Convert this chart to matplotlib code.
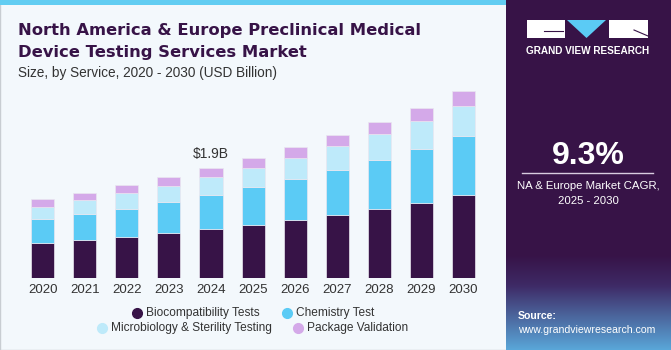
# North America & Europe preclinical medical device testing services chart

import numpy as np
import matplotlib.pyplot as plt
from matplotlib.patches import Rectangle, Polygon
from matplotlib.lines import Line2D

years = ['2020', '2021', '2022', '2023', '2024', '2025', '2026', '2027', '2028', '2029', '2030']
biocompat = [0.605, 0.662, 0.719, 0.777, 0.846, 0.921, 1.002, 1.094, 1.192, 1.307, 1.428]
chemistry = [0.415, 0.449, 0.484, 0.535, 0.587, 0.645, 0.702, 0.771, 0.846, 0.927, 1.019]
microbio = [0.218, 0.242, 0.265, 0.288, 0.311, 0.334, 0.374, 0.409, 0.443, 0.484, 0.530]
package = [0.128, 0.121, 0.138, 0.144, 0.155, 0.167, 0.178, 0.190, 0.213, 0.225, 0.248]
series_names = ['Biocompatibility Tests', 'Chemistry Test',
                'Microbiology & Sterility Testing', 'Package Validation']
colors = ['#371347', '#5BCBF5', '#BEEAFA', '#D4A9E9']

W, H = 671, 350
fig = plt.figure(figsize=(W / 100, H / 100), dpi=100)
fig.patch.set_facecolor('#FFFFFF')

def fx(px):
    return px / W

def fy(py):
    return 1 - py / H

# backgrounds
fig.add_artist(Rectangle((0, 0), 1, 1, transform=fig.transFigure, facecolor='#F3F8FC',
                         edgecolor='#C8CDD2', lw=1.0, zorder=0))
fig.add_artist(Rectangle((0, fy(5)), fx(506), 5 / H, transform=fig.transFigure,
                         facecolor='#62CDF2', edgecolor='none', zorder=1))

# right panel with gradient at the bottom
pax = fig.add_axes([fx(506), 0, 1 - fx(506), 1])
grad = np.ones((350, 2, 3))
top_c = np.array([0x37, 0x13, 0x47]) / 255
mid_c = np.array([0x3E, 0x2A, 0x66]) / 255
bot_c = np.array([0x5A, 0xA8, 0xDA]) / 255
for i in range(350):
    if i < 255:
        grad[i] = top_c
    elif i < 285:
        t = (i - 255) / 30
        grad[i] = top_c * (1 - t) + mid_c * t
    else:
        t = (i - 285) / 65
        grad[i] = mid_c * (1 - t) + bot_c * t
pax.imshow(grad, aspect='auto', extent=[0, 1, 0, 1], origin='upper')
pax.set_xlim(0, 1)
pax.set_ylim(0, 1)
pax.axis('off')

# logo
fig.add_artist(Rectangle((fx(527), fy(38)), fx(565) - fx(527), 18 / H, transform=fig.transFigure,
                         facecolor='white', edgecolor='none', zorder=3))
fig.add_artist(Polygon([(fx(567), fy(20)), (fx(606), fy(20)), (fx(586.5), fy(38))],
                       transform=fig.transFigure, facecolor='#5BCBF5', edgecolor='none', zorder=3))
fig.add_artist(Rectangle((fx(609), fy(38)), fx(648) - fx(609), 18 / H, transform=fig.transFigure,
                         facecolor='white', edgecolor='none', zorder=3))
fig.add_artist(Line2D([fx(544), fx(563)], [fy(31), fy(31)], transform=fig.transFigure,
                      color='#371347', lw=0.8, zorder=4))
fig.add_artist(Line2D([fx(634), fx(648)], [fy(30), fy(36)], transform=fig.transFigure,
                      color='#371347', lw=0.8, zorder=4))
fig.text(fx(588), fy(51), 'GRAND VIEW RESEARCH', color='white', fontsize=7.2,
         fontweight='bold', ha='center', va='center', family='Liberation Sans')

fig.text(fx(588), fy(156), '9.3%', color='white', fontsize=23, fontweight='bold',
         ha='center', va='center', family='Liberation Sans')
fig.add_artist(Line2D([fx(522), fx(653)], [fy(173), fy(173)], transform=fig.transFigure,
                      color='#D8CCE0', lw=1.0))
fig.text(fx(588), fy(186), 'NA & Europe Market CAGR,', color='white', fontsize=8.2,
         ha='center', va='center', family='Liberation Sans')
fig.text(fx(588), fy(201), '2025 - 2030', color='white', fontsize=8.2,
         ha='center', va='center', family='Liberation Sans')
fig.text(fx(518), fy(316), 'Source:', color='white', fontsize=7.6, fontweight='bold',
         ha='left', va='center', family='Liberation Sans')
fig.text(fx(518), fy(330), 'www.grandviewresearch.com', color='white', fontsize=7.6,
         ha='left', va='center', family='Liberation Sans')

# titles
fig.text(fx(18), fy(30), 'North America & Europe Preclinical Medical', color='#371347',
         fontsize=11.8, fontweight='bold', ha='left', va='center', family='Liberation Sans Narrow')
fig.text(fx(18), fy(52), 'Device Testing Services Market', color='#371347',
         fontsize=11.8, fontweight='bold', ha='left', va='center', family='Liberation Sans Narrow')
fig.text(fx(18), fy(73), 'Size, by Service, 2020 - 2030 (USD Billion)', color='#333333',
         fontsize=9.8, ha='left', va='center', family='Liberation Sans')

# bars
ax = fig.add_axes([fx(21.6), 71.7 / H, (484.6 - 21.6) / W, (278.3 - 87) / H])
ax.set_facecolor('none')
x = np.arange(len(years))
bottom = np.zeros(len(years))
for vals, c in zip([biocompat, chemistry, microbio, package], colors):
    ax.bar(x, vals, 0.55, bottom=bottom, color=c, edgecolor='#E9E6F0', linewidth=0.5)
    bottom += np.array(vals)
ax.set_xlim(-0.5, len(years) - 0.5)
ax.set_ylim(0, 191 / 57.9)
ax.set_xticks(x)
ax.set_xticklabels(years, fontsize=9.5, color='#333333', family='Liberation Sans')
ax.tick_params(axis='x', length=0, pad=4)
ax.set_yticks([])
for s in ax.spines.values():
    s.set_visible(False)
ax.text(4, bottom[4] + 0.12, '$1.9B', ha='center', va='bottom', fontsize=10,
        color='#333333', family='Liberation Sans')

# legend
legend_pos = [(137, 313), (287, 313), (102, 328), (298, 328)]
for (px, py), name, c in zip(legend_pos, series_names, colors):
    fig.add_artist(Line2D([fx(px)], [fy(py)], marker='o', markersize=7, color=c,
                          transform=fig.transFigure, linestyle='none'))
    fig.text(fx(px + 9), fy(py), name, fontsize=8.6, color='#333333', ha='left', va='center',
             family='Liberation Sans')

fig.savefig('out.png', dpi=100)
